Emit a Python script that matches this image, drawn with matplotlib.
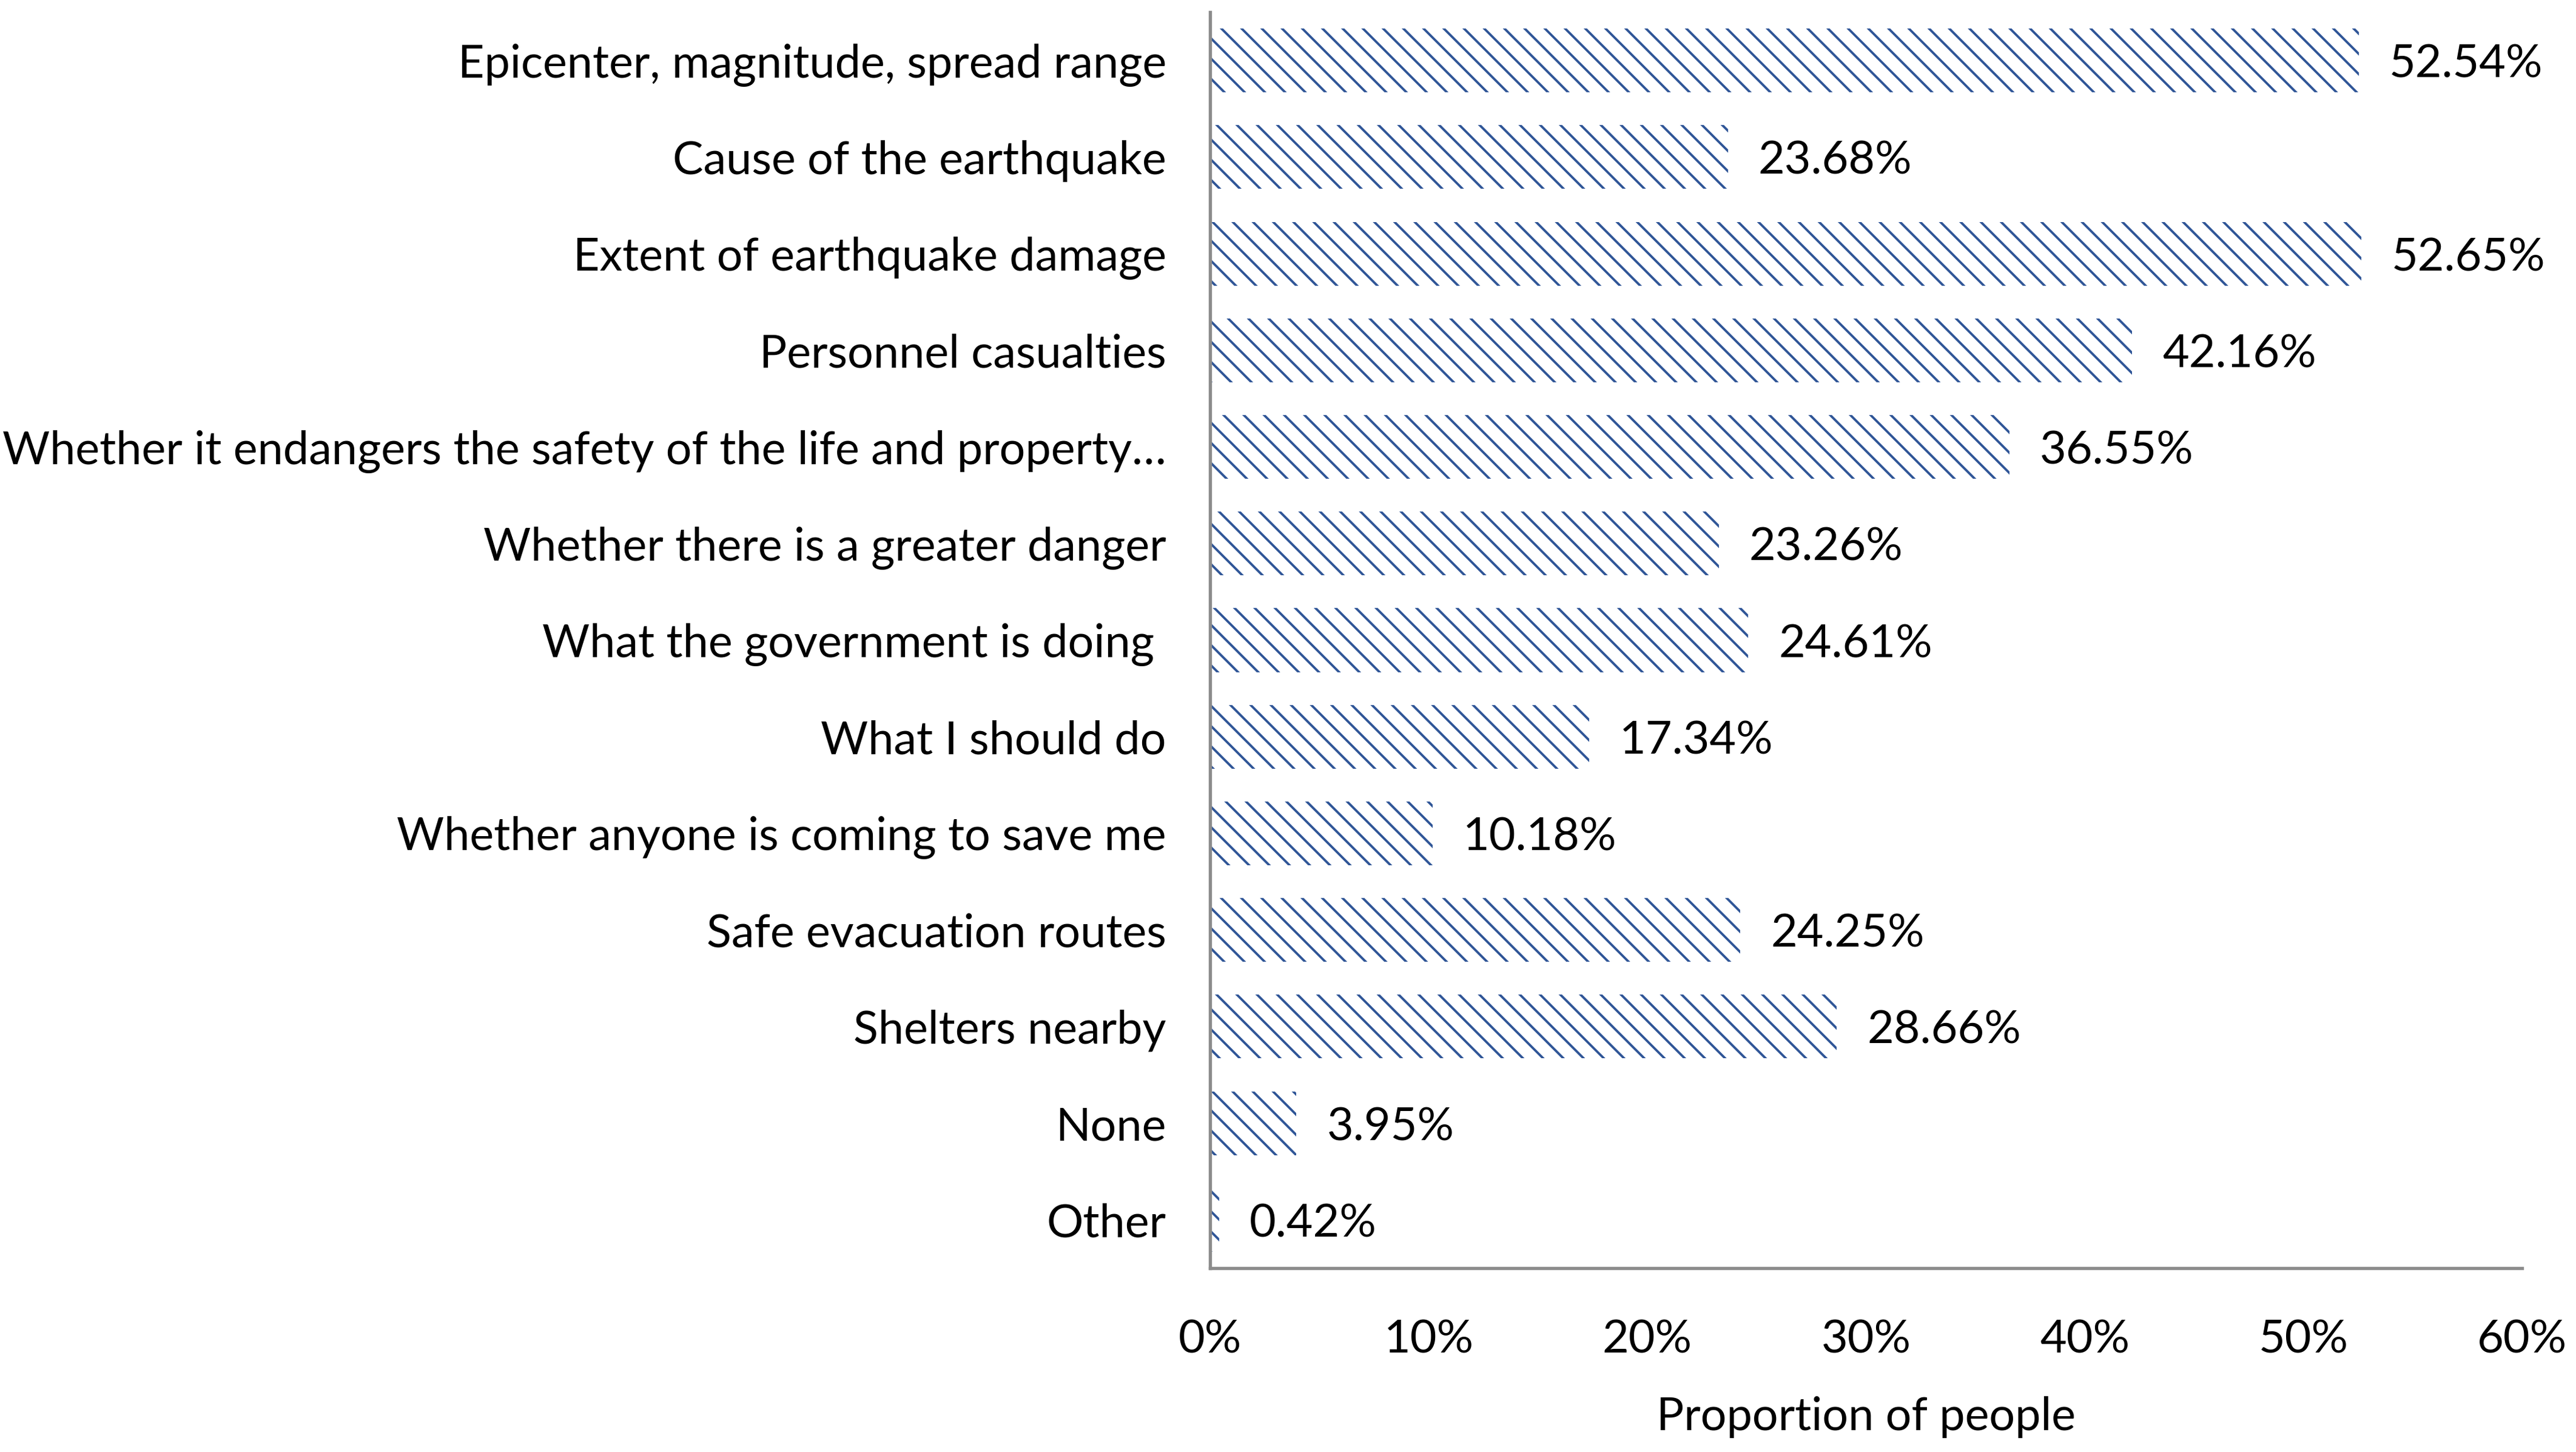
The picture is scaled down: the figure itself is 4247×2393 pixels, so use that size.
import matplotlib.pyplot as plt
from matplotlib.ticker import FuncFormatter

# survey answers, top to bottom
categories = [
    "Epicenter, magnitude, spread range",
    "Cause of the earthquake",
    "Extent of earthquake damage",
    "Personnel casualties",
    "Whether it endangers the safety of the life and property\u2026",
    "Whether there is a greater danger",
    "What the government is doing ",
    "What I should do",
    "Whether anyone is coming to save me",
    "Safe evacuation routes",
    "Shelters nearby",
    "None",
    "Other",
]
values = [52.54, 23.68, 52.65, 42.16, 36.55, 23.26, 24.61, 17.34, 10.18, 24.25, 28.66, 3.95, 0.42]
xticks = [0, 10, 20, 30, 40, 50, 60]

DPI = 200
plt.rcParams["font.family"] = ["Lato", "DejaVu Sans"]
plt.rcParams["hatch.linewidth"] = 1.4
fs = 27.2

fig = plt.figure(figsize=(4247 / DPI, 2393 / DPI), dpi=DPI)
ax = fig.add_axes([1995 / 4247, 1 - 2090 / 2393, (4158 - 1995) / 4247, (2090 - 20) / 2393])

ypos = list(range(len(categories)))
bars = ax.barh(ypos, values, height=0.66, color="white", edgecolor="#2F5597",
               hatch="\\\\", linewidth=0)

for y, v in zip(ypos, values):
    ax.annotate(f"{v:.2f}%", (v, y), xytext=(18, 0), textcoords="offset points",
                ha="left", va="center_baseline", fontsize=fs, color="black")

ax.set_xlim(0, 60)
ax.set_ylim(len(categories) - 0.5, -0.5)
ax.set_yticks(ypos)
ax.set_yticklabels(categories, fontsize=fs, va="center_baseline")
ax.set_xticks(xticks)
ax.xaxis.set_major_formatter(FuncFormatter(lambda x, p: f"{x:.0f}%"))
ax.tick_params(axis="x", length=0, pad=30, labelsize=fs)
ax.tick_params(axis="y", length=0, pad=26)
ax.set_xlabel("Proportion of people", fontsize=fs, labelpad=21)

for s in ["top", "right"]:
    ax.spines[s].set_visible(False)
for s in ["left", "bottom"]:
    ax.spines[s].set_color("#8C8C8C")
    ax.spines[s].set_linewidth(1.95)

fig.savefig("out.png", dpi=DPI)
